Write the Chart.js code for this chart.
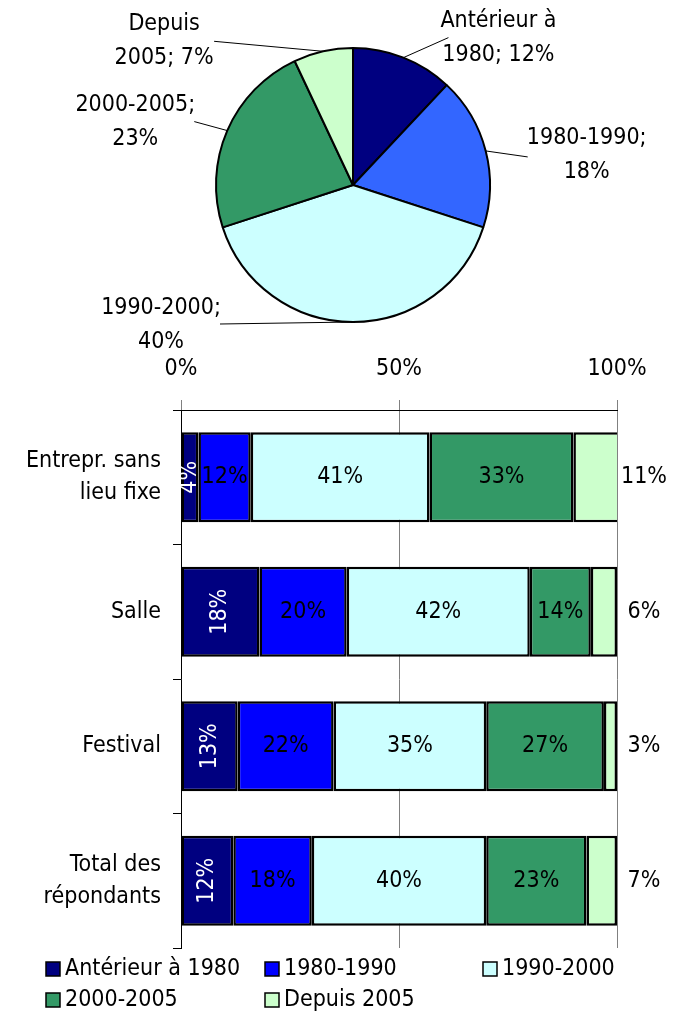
<!DOCTYPE html>
<html>
<head>
<meta charset="utf-8">
<script src="https://cdn.jsdelivr.net/npm/chart.js@4.4.1/dist/chart.umd.min.js"></script>
<style>
  html, body { margin: 0; padding: 0; background: #fff; }
  #wrap { position: relative; width: 678px; height: 1016px; }
  #pie { position: absolute; left: 0; top: 0; }
  #bars { position: absolute; left: 0; top: 356px; }
</style>
</head>
<body>
<div id="wrap">
  <canvas id="pie" width="678" height="356"></canvas>
  <canvas id="bars" width="678" height="660"></canvas>
</div>
<script>
// periods (series) and their shares
const periods = ['Antérieur à 1980', '1980-1990', '1990-2000', '2000-2005', 'Depuis 2005'];
const pieLabels = [['Antérieur à', '1980; 12%'], ['1980-1990;', '18%'], ['1990-2000;', '40%'], ['2000-2005;', '23%'], ['Depuis', '2005; 7%']];
const pieValues = [12, 18, 40, 23, 7];

const categories = [['Entrepr. sans', 'lieu fixe'], 'Salle', 'Festival', ['Total des', 'répondants']];
const anterieur = [4, 18, 13, 12];
const p1980 = [12, 20, 22, 18];
const p1990 = [41, 42, 35, 40];
const p2000 = [33, 14, 27, 23];
const depuis = [11, 6, 3, 7];
const xTicks = [0, 50, 100];

const pieColors = ['#000080', '#3366FF', '#CCFFFF', '#339966', '#CCFFCC'];
const barColors = ['#000080', '#0000FF', '#CCFFFF', '#339966', '#CCFFCC'];
const FONT = "'DejaVu Sans Condensed', 'Liberation Sans Narrow', sans-serif";
const FSIZE = 23;

Chart.defaults.font.family = FONT;
Chart.defaults.font.size = FSIZE;
Chart.defaults.color = '#000';

// leader line end and text centre, relative to the slice's edge point
const pieLabelPos = [
  { line: [45, -20], text: [95, -37] },
  { line: [42, 6], text: [101, -13] },
  { line: [-133, 2], text: [-192, -14] },
  { line: [-33, -9], text: [-92, -26] },
  { line: [-109, -10], text: [-159, -27] }
];

const pieCallouts = {
  id: 'pieCallouts',
  afterDraw(chart) {
    const ctx = chart.ctx;
    ctx.save();
    ctx.font = FSIZE + 'px ' + FONT;
    ctx.fillStyle = '#000';
    ctx.strokeStyle = '#000';
    ctx.lineWidth = 1;
    ctx.textAlign = 'center';
    ctx.textBaseline = 'middle';
    chart.getDatasetMeta(0).data.forEach((arc, i) => {
      const mid = (arc.startAngle + arc.endAngle) / 2;
      const ex = arc.x + Math.cos(mid) * arc.outerRadius;
      const ey = arc.y + Math.sin(mid) * arc.outerRadius;
      const p = pieLabelPos[i];
      ctx.beginPath();
      ctx.moveTo(ex, ey);
      ctx.lineTo(ex + p.line[0], ey + p.line[1]);
      ctx.stroke();
      pieLabels[i].forEach((t, k) => {
        ctx.fillText(t, ex + p.text[0], ey + p.text[1] + k * 34);
      });
    });
    ctx.restore();
  }
};

new Chart(document.getElementById('pie'), {
  type: 'pie',
  data: {
    labels: periods,
    datasets: [{
      data: pieValues,
      backgroundColor: pieColors,
      borderColor: '#000',
      borderWidth: 2
    }]
  },
  options: {
    responsive: false,
    animation: false,
    layout: { padding: { left: 215, right: 187, top: 47, bottom: 33 } },
    plugins: { legend: { display: false }, tooltip: { enabled: false } }
  },
  plugins: [pieCallouts]
});

const barLabels = {
  id: 'barLabels',
  afterDatasetsDraw(chart) {
    const ctx = chart.ctx;
    const area = chart.chartArea;
    ctx.save();
    ctx.font = FSIZE + 'px ' + FONT;
    ctx.textBaseline = 'middle';
    ctx.textAlign = 'center';
    chart.data.datasets.forEach((ds, i) => {
      chart.getDatasetMeta(i).data.forEach((bar, j) => {
        const txt = ds.data[j] + '%';
        const cx = (bar.x + bar.base) / 2;
        if (i === 0) {
          ctx.save();
          ctx.translate(cx, bar.y);
          ctx.rotate(-Math.PI / 2);
          ctx.fillStyle = '#fff';
          ctx.fillText(txt, 0, 0);
          ctx.restore();
        } else if (i === 4) {
          ctx.fillStyle = '#000';
          ctx.fillText(txt, area.right + 27, bar.y);
        } else {
          ctx.fillStyle = '#000';
          ctx.fillText(txt, cx, bar.y);
        }
      });
    });
    ctx.restore();
  }
};

const boxLegend = {
  id: 'boxLegend',
  afterDraw(chart) {
    const ctx = chart.ctx;
    const cols = [46, 265, 483];
    const rows = [613, 644];
    ctx.save();
    ctx.font = FSIZE + 'px ' + FONT;
    ctx.textBaseline = 'middle';
    ctx.textAlign = 'left';
    chart.data.datasets.forEach((ds, i) => {
      const x = cols[i % 3];
      const y = rows[Math.floor(i / 3)];
      ctx.fillStyle = ds.backgroundColor;
      ctx.fillRect(x, y - 7, 14, 14);
      ctx.strokeStyle = '#000';
      ctx.lineWidth = 1.5;
      ctx.strokeRect(x, y - 7, 14, 14);
      ctx.fillStyle = '#000';
      ctx.fillText(ds.label, x + 19, y);
    });
    ctx.restore();
  }
};

const seriesData = [anterieur, p1980, p1990, p2000, depuis];

new Chart(document.getElementById('bars'), {
  type: 'bar',
  data: {
    labels: categories,
    datasets: periods.map((p, i) => ({
      label: p,
      data: seriesData[i],
      backgroundColor: barColors[i],
      borderColor: '#000',
      borderWidth: 2.5,
      borderSkipped: false,
      categoryPercentage: 0.67,
      barPercentage: 1
    }))
  },
  options: {
    responsive: false,
    animation: false,
    indexAxis: 'y',
    layout: { padding: { left: 0, right: 61, top: 0, bottom: 68 } },
    scales: {
      x: {
        position: 'top',
        stacked: true,
        min: 0,
        max: 100,
        afterBuildTicks(scale) { scale.ticks = xTicks.map(v => ({ value: v })); },
        afterFit(scale) { scale.height = 54; },
        ticks: { padding: 17, callback: v => v + '%' },
        grid: { color: '#808080', lineWidth: 1, tickLength: 10 },
        border: { color: '#000', width: 1 }
      },
      y: {
        stacked: true,
        afterFit(scale) { scale.width = 181; },
        ticks: { padding: 12, font: { lineHeight: 1.4 } },
        grid: { offset: true, drawOnChartArea: false, color: '#000', tickLength: 8 },
        border: { color: '#000', width: 1 }
      }
    },
    plugins: { legend: { display: false }, tooltip: { enabled: false } }
  },
  plugins: [barLabels, boxLegend]
});
</script>
</body>
</html>
